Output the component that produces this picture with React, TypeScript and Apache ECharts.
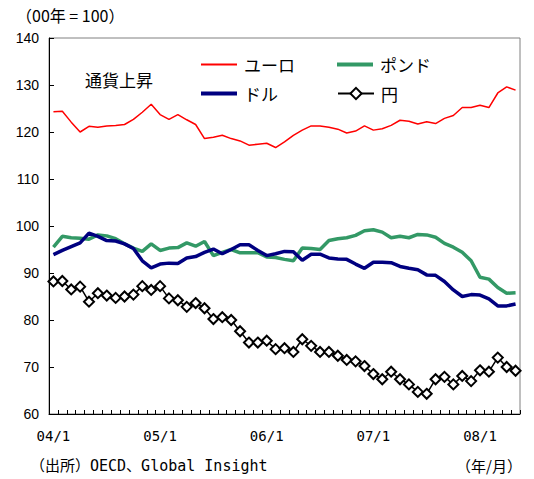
import React, { useEffect, useRef } from "react";
import * as echarts from "echarts";

const categories = [
  "04/1","04/2","04/3","04/4","04/5","04/6","04/7","04/8","04/9","04/10","04/11","04/12",
  "05/1","05/2","05/3","05/4","05/5","05/6","05/7","05/8","05/9","05/10","05/11","05/12",
  "06/1","06/2","06/3","06/4","06/5","06/6","06/7","06/8","06/9","06/10","06/11","06/12",
  "07/1","07/2","07/3","07/4","07/5","07/6","07/7","07/8","07/9","07/10","07/11","07/12",
  "08/1","08/2","08/3","08/4","08/5",
];

const euro = [
  124.3,124.4,122.1,120.0,121.2,121.0,121.3,121.4,121.6,122.7,
  124.2,125.9,123.7,122.7,123.7,122.6,121.6,118.6,118.9,119.3,
  118.6,118.1,117.2,117.4,117.6,116.7,117.9,119.3,120.4,121.3,
  121.3,121.0,120.6,119.8,120.2,121.3,120.4,120.7,121.4,122.5,
  122.3,121.7,122.2,121.8,122.9,123.5,125.2,125.2,125.7,125.2,
  128.3,129.6,128.9,
];

const pound = [
  95.5,97.8,97.5,97.4,97.2,98.1,97.9,97.3,96.2,95.3,
  94.6,96.2,94.8,95.3,95.4,96.4,95.7,96.7,93.7,94.4,
  95.0,94.3,94.3,94.3,93.4,93.3,92.9,92.6,95.3,95.2,
  95.0,96.9,97.3,97.5,98.0,99.0,99.2,98.7,97.5,97.8,
  97.5,98.2,98.1,97.6,96.3,95.5,94.4,92.6,89.1,88.7,
  86.9,85.7,85.8,
];

const dollar = [
  93.9,94.8,95.6,96.4,98.5,97.8,96.9,96.8,96.2,95.2,
  92.6,91.1,91.9,92.1,92.0,93.2,93.5,94.4,95.1,94.1,
  95.0,96.0,96.0,94.8,93.7,94.1,94.6,94.5,92.7,94.0,
  94.0,93.2,93.0,92.9,91.9,91.0,92.3,92.3,92.2,91.4,
  91.0,90.7,89.6,89.5,88.2,86.4,85.0,85.4,85.3,84.5,
  83.0,83.0,83.4,
];

const yen = [
  88.2,88.3,86.5,87.1,83.9,85.7,85.2,84.7,85.0,85.4,
  87.2,86.4,87.2,84.6,84.2,82.8,83.6,82.5,80.2,80.6,
  80.0,77.6,75.2,75.2,75.6,73.8,74.0,73.2,75.9,74.5,
  73.2,73.2,72.4,71.5,71.2,70.2,68.5,67.4,69.0,67.4,
  66.3,64.7,64.3,67.4,67.9,66.3,68.1,67.0,69.3,69.0,
  72.0,70.0,69.2,
];

const seriesNames = ["ユーロ", "ポンド", "ドル", "円"];

const CJK = "'Noto Sans CJK JP', 'Liberation Sans', sans-serif";
const MONO = "'DejaVu Sans Mono', 'Noto Sans CJK JP', monospace";

export default function App() {
  const ref = useRef<HTMLDivElement>(null);

  useEffect(() => {
    document.body.style.margin = "0";
    if (!ref.current) return;
    const chart = echarts.init(ref.current, null, { renderer: "svg" });

    const legendBase = {
      orient: "horizontal",
      padding: 0,
      itemWidth: 36,
      itemHeight: 14,
      itemGap: 4,
      selectedMode: false,
      textStyle: { fontSize: 17, color: "#000", fontFamily: CJK, padding: [0, 0, 0, 2] },
    };

    chart.setOption({
      animation: false,
      backgroundColor: "#fff",
      grid: {
        left: 49,
        right: 14,
        top: 38,
        bottom: 65,
        containLabel: false,
        outerBoundsMode: "none",
        show: true,
        borderColor: "#808080",
        borderWidth: 1,
      },
      legend: [
        {
          ...legendBase,
          itemHeight: 2,
          data: [{ name: seriesNames[0], icon: "rect" }],
          left: 201,
          top: 56,
        },
        {
          ...legendBase,
          itemHeight: 4,
          data: [{ name: seriesNames[1], icon: "rect" }],
          left: 337,
          top: 56,
        },
        {
          ...legendBase,
          itemHeight: 4,
          data: [{ name: seriesNames[2], icon: "rect" }],
          left: 201,
          top: 85,
        },
        { ...legendBase, data: [seriesNames[3]], left: 337, top: 85 },
      ],
      xAxis: {
        type: "category",
        data: categories,
        boundaryGap: true,
        axisLine: { show: true, lineStyle: { color: "#000", width: 1 } },
        axisTick: { show: true, inside: true, interval: 0, length: 4, lineStyle: { color: "#000" } },
        axisLabel: {
          interval: 11,
          margin: 15,
          fontSize: 14,
          color: "#000",
          fontFamily: MONO,
        },
        splitLine: { show: false },
      },
      yAxis: {
        type: "value",
        min: 60,
        max: 140,
        interval: 10,
        axisLine: { show: true, lineStyle: { color: "#000", width: 1 } },
        axisTick: { show: true, inside: true, length: 5, lineStyle: { color: "#000" } },
        axisLabel: {
          margin: 10,
          fontSize: 14,
          color: "#000",
          fontFamily: "'Liberation Sans', Arial, sans-serif",
        },
        splitLine: { show: false },
      },
      series: [
        {
          name: seriesNames[0],
          type: "line",
          data: euro,
          symbol: "none",
          lineStyle: { color: "#FF0000", width: 1.5 },
          itemStyle: { color: "#FF0000" },
        },
        {
          name: seriesNames[1],
          type: "line",
          data: pound,
          symbol: "none",
          lineStyle: { color: "#339966", width: 3.5 },
          itemStyle: { color: "#339966" },
        },
        {
          name: seriesNames[2],
          type: "line",
          data: dollar,
          symbol: "none",
          lineStyle: { color: "#000080", width: 3.5 },
          itemStyle: { color: "#000080" },
        },
        {
          name: seriesNames[3],
          type: "line",
          data: yen,
          symbol: "emptyDiamond",
          symbolSize: 10,
          showAllSymbol: true,
          lineStyle: { color: "#000", width: 1.5 },
          itemStyle: { color: "#000", borderColor: "#000", borderWidth: 1.5 },
        },
      ],
      graphic: [
        {
          type: "text",
          left: 16,
          top: 7,
          style: { text: "（00年 = 100）", fontSize: 16, fill: "#000", fontFamily: CJK },
        },
        {
          type: "text",
          left: 85,
          top: 71,
          style: { text: "通貨上昇", fontSize: 17, fill: "#000", fontFamily: CJK },
        },
        {
          type: "text",
          left: 30,
          top: 458,
          style: { text: "（出所）OECD、Global Insight", fontSize: 15, fill: "#000", fontFamily: MONO },
        },
        {
          type: "text",
          right: 12,
          top: 458,
          style: { text: "（年/月）", fontSize: 15, fill: "#000", fontFamily: CJK },
        },
      ],
    });

    return () => chart.dispose();
  }, []);

  return <div ref={ref} style={{ width: 534, height: 479 }} />;
}
